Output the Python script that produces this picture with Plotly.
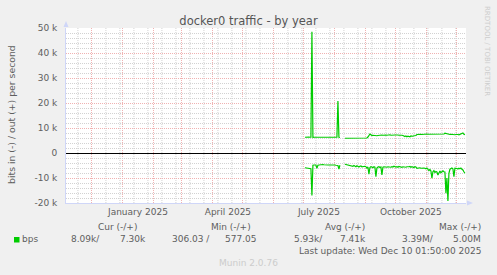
import pandas as pd
import plotly.graph_objects as go

# ---------------- data (daily values, kbit/s) ----------------
start_date = "2025-07-02"
out_kbps = [
    6.3, 6.4, 6.3, 6.3, 6.4, 6.3, 6.3,        # Jul 2-8
    48.5, 6.2, 6.3, 6.3, 6.3, 6.4, 6.3,       # Jul 9-15
    6.3, 6.3, 6.2, 6.3, 6.3, 6.3, 6.2,        # Jul 16-22
    6.3, 6.3, 6.2, 6.1, 6.3, 6.3, 6.3,        # Jul 23-29
    6.3, 6.3, 6.3, 6.3, 6.3, 20.8, 6.3,       # Jul 30-Aug 5
    6.2, None, None, None, None, 5.9, 5.9,    # Aug 6-12
    6.0, 5.9, 5.9, 6.0, 5.9, 5.9, 6.0,        # Aug 13-19
    6.0, 5.9, 5.9, 6.0, 6.0, 6.1, 6.0,        # Aug 20-26
    6.0, 6.1, 6.0, 6.0, 6.1, 6.1, 6.0,        # Aug 27-Sep 2
    6.4, 7.0, 7.6, 7.3, 7.0, 7.1, 7.0,        # Sep 3-9
    7.0, 7.1, 6.9, 7.0, 7.1, 7.0, 7.1,        # Sep 10-16
    7.2, 7.1, 7.2, 7.3, 7.2, 7.1, 7.2,        # Sep 17-23
    7.2, 7.3, 7.1, 7.2, 7.2, 7.1, 7.2,        # Sep 24-30
    7.2, 7.3, 7.2, 7.1, 7.2, 7.2, 7.1,        # Oct 1-7
    7.0, 6.7, 6.6, 6.8, 6.5, 6.7, 6.6,        # Oct 8-14
    6.5, 6.8, 6.6, 6.7, 6.9, 6.8, 7.0,        # Oct 15-21
    7.4, 7.5, 7.4, 7.6, 7.5, 7.4, 7.5,        # Oct 22-28
    7.5, 7.4, 7.5, 7.6, 7.5, 7.5, 7.4,        # Oct 29-Nov 4
    7.5, 7.6, 7.4, 7.5, 7.5, 7.6, 7.5,        # Nov 5-11
    7.4, 7.5, 7.5, 7.6, 7.5, 7.4, 7.6,        # Nov 12-18
    7.9, 7.8, 7.5, 7.4, 7.5, 7.4, 7.5,        # Nov 19-25
    7.4, 7.5, 7.4, 7.3, 7.4, 7.5, 7.4,        # Nov 26-Dec 2
    7.3, 7.4, 7.5, 7.6, 8.0, 7.5, 7.3,        # Dec 3-9
]
in_kbps = [
    5.9, 6.0, 6.1, 6.1, 6.0, 6.2, 6.3,
    17.0, 4.9, 4.8, 4.8, 4.8, 6.1, 4.9,
    4.8, 4.7, 4.8, 4.8, 4.6, 4.7, 4.8,
    4.8, 4.9, 4.8, 4.8, 4.7, 4.8, 4.8,
    4.8, 4.7, 4.8, 4.9, 4.8, 5.0, 6.4,
    4.9, None, None, None, None, 4.5, 4.6,
    4.8, 4.9, 5.0, 4.8, 5.1, 5.0, 5.3,
    5.0, 5.2, 5.5, 5.1, 5.4, 5.6, 5.3,
    5.2, 5.5, 5.4, 5.6, 5.3, 5.5, 6.0,
    5.6, 8.5, 5.8, 5.5, 5.6, 5.9, 5.5,
    5.7, 9.5, 6.0, 5.6, 5.5, 5.8, 5.6,
    8.8, 5.7, 5.5, 5.6, 5.4, 5.7, 5.5,
    5.6, 5.4, 5.7, 5.5, 5.6, 5.3, 5.5,
    5.6, 5.5, 5.7, 5.4, 5.6, 5.5, 5.7,
    5.5, 5.6, 5.4, 5.7, 5.5, 5.6, 5.5,
    5.4, 5.7, 5.5, 5.6, 5.8, 5.5, 5.6,
    6.1, 6.0, 6.2, 5.9, 6.1, 6.0, 6.2,
    6.0, 6.1, 6.3, 6.0, 6.5, 7.0, 6.6,
    7.2, 10.1, 7.5, 7.0, 7.8, 7.4, 7.6,
    8.8, 7.5, 7.2, 7.9, 7.4, 7.1, 7.5,
    7.6, 16.1, 10.0, 19.2, 8.1, 6.5, 6.2,
    6.0, 6.3, 9.5, 6.1, 6.0, 6.2, 6.4,
    6.1, 6.3, 6.0, 6.5, 6.8, 7.5, 8.09,
]

y_tickvals = [-20000, -10000, 0, 10000, 20000, 30000, 40000, 50000]
y_ticktext = ["-20 k", "-10 k", "0", "10 k", "20 k", "30 k", "40 k", "50 k"]
x_label_dates = ["2025-01-16", "2025-04-16", "2025-07-16", "2025-10-16"]
x_label_text = ["January 2025", "April 2025", "July 2025", "October 2025"]

legend_headers = ["Cur (-/+)", "Min (-/+)", "Avg (-/+)", "Max (-/+)"]
legend_values = ["8.09k/", "7.30k", "306.03 /", "577.05", "5.93k/", "7.41k", "3.39M/", "5.00M"]
series_name = "bps"
title_text = "docker0 traffic - by year"
ylabel_text = "bits in (-) / out (+) per second"
last_update = "Last update: Wed Dec 10 01:50:00 2025"
footer_text = "Munin 2.0.76"
watermark = "RRDTOOL / TOBI OETIKER"

end_time = pd.Timestamp("2025-12-10 01:50:00")
start_time = end_time - pd.Timedelta(days=400)

# ---------------- geometry ----------------
W, H = 497, 275
L, R, T, B = 66, 31, 28, 72
PW, PH = W - L - R, H - T - B

def px(x):
    return (x - L) / PW

def py(y):
    return (T + PH - y) / PH

FONT = "DejaVu Sans"
FC = "#5e5e5e"
GREEN = "#00cc00"
AXIS = "#cfd6f8"
MGRID = "#f0b2b2"
GRID = "#d2d2d2"

dates = pd.date_range(start_date, periods=len(out_kbps), freq="D")
out_vals = [None if v is None else v * 1000 for v in out_kbps]
in_vals = [None if v is None else -v * 1000 for v in in_kbps]

fig = go.Figure()
fig.add_trace(go.Scatter(x=dates, y=out_vals, mode="lines",
                         line=dict(color=GREEN, width=1.2), name=series_name,
                         showlegend=False, hoverinfo="skip"))
fig.add_trace(go.Scatter(x=dates, y=in_vals, mode="lines",
                         line=dict(color=GREEN, width=1.2), name=series_name,
                         showlegend=False, hoverinfo="skip"))

month_starts = pd.date_range("2024-12-01", "2025-12-01", freq="MS")
biweekly = pd.date_range("2024-11-17", end_time, freq="14D")

shapes = []
ms_set = set(month_starts)
for d in biweekly:
    if d in ms_set:
        continue
    shapes.append(dict(type="line", xref="x", yref="y domain", x0=d, x1=d, y0=0, y1=1,
                       line=dict(color=GRID, width=1, dash="1px,1px"), layer="below"))

# axis arrows
shapes.append(dict(type="path", xref="paper", yref="paper",
                   path=f"M {px(63.5)} {py(27)} L {px(68.5)} {py(27)} L {px(66)} {py(21)} Z",
                   fillcolor=AXIS, line=dict(width=0)))
shapes.append(dict(type="path", xref="paper", yref="paper",
                   path=f"M {px(467)} {py(200.5)} L {px(467)} {py(205.5)} L {px(473)} {py(203)} Z",
                   fillcolor=AXIS, line=dict(width=0)))
# legend swatch
shapes.append(dict(type="rect", xref="paper", yref="paper",
                   x0=px(14), x1=px(19.5), y0=py(242.5), y1=py(237),
                   fillcolor=GREEN, line=dict(width=0)))

ann = []
def text(x, y, s, anchor="left", size=9, color=FC, angle=0):
    ann.append(dict(x=px(x), y=py(y), xref="paper", yref="paper", text=s,
                    showarrow=False, xanchor=anchor, yanchor="middle",
                    textangle=angle, font=dict(family=FONT, size=size, color=color),
                    borderpad=0))

text(11, 114, ylabel_text, anchor="center", size=9.3, angle=-90)
text(487, 51, watermark, anchor="center", size=7, color="#cdcdcd", angle=90)
for s, cx in zip(legend_headers, [117.7, 231, 344.7, 459.7]):
    text(cx, 227.3, s, anchor="center")
text(20.5, 239.3, series_name, anchor="left")
for s, rx in zip(legend_values, [101, 146.7, 211, 258.3, 324, 367.3, 435, 482]):
    text(rx, 239.3, s, anchor="right")
text(482.3, 251, last_update, anchor="right")
text(248.3, 262.7, footer_text, anchor="center", color="#cccccc")

fig.update_layout(
    width=W, height=H, autosize=False,
    margin=dict(l=L, r=R, t=T, b=B, pad=0),
    paper_bgcolor="#f0f0f0", plot_bgcolor="#ffffff",
    title=dict(text=title_text, x=0.5, xanchor="center", xref="container",
               y=1 - 21 / H, yanchor="middle", yref="container",
               font=dict(family=FONT, size=11.5, color="#555555")),
    font=dict(family=FONT, size=9, color=FC),
    shapes=shapes, annotations=ann, showlegend=False,
)
fig.update_xaxes(
    type="date", range=[start_time, end_time],
    tickvals=pd.to_datetime(x_label_dates), ticktext=x_label_text,
    showgrid=False, ticks="", showline=True, linecolor=AXIS, linewidth=1,
    zeroline=False, tickfont=dict(family=FONT, size=9, color=FC),
    minor=dict(tickvals=month_starts, showgrid=True, gridcolor=MGRID,
               griddash="1px,1px", gridwidth=1, ticks=""),
    fixedrange=True,
)
fig.update_yaxes(
    range=[-20000, 50000], tickvals=y_tickvals, ticktext=y_ticktext,
    showgrid=True, gridcolor=MGRID, griddash="1px,1px", gridwidth=1,
    minor=dict(dtick=2000, showgrid=True, gridcolor=GRID, griddash="1px,1px", gridwidth=1),
    zeroline=True, zerolinecolor="#000000", zerolinewidth=1,
    ticks="", showline=True, linecolor=AXIS, linewidth=1,
    ticklabelstandoff=6, tickfont=dict(family=FONT, size=9, color=FC),
    fixedrange=True,
)

fig.write_html("out.html")
